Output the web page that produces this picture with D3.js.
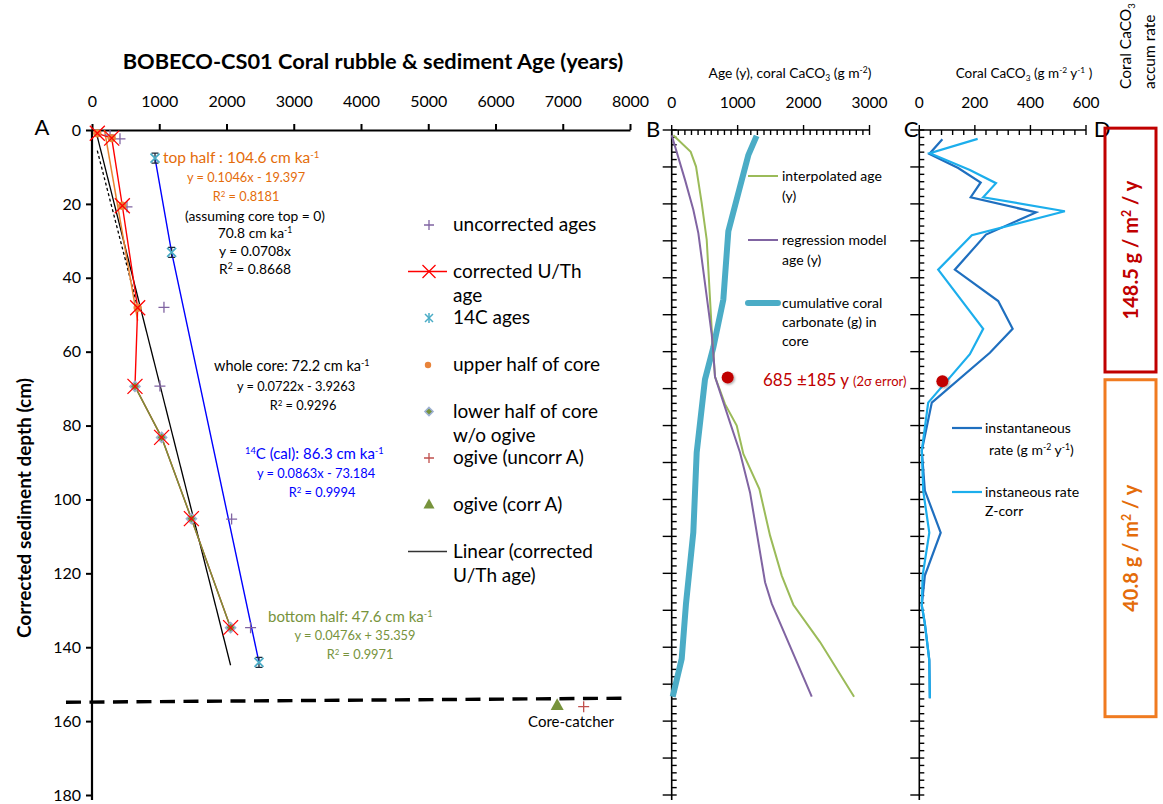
<!DOCTYPE html>
<html><head><meta charset="utf-8">
<script src="https://cdn.jsdelivr.net/npm/d3@7"></script>
<style>
html,body{margin:0;padding:0;background:#fff;}
svg{display:block;font-family:Lato,"Open Sans",sans-serif;}
</style></head>
<body>
<svg id="chart" width="1163" height="804"></svg>
<script>
// ---------------- DATA ----------------
// Panel A: age (years) vs corrected depth (cm)
const ageTicksA = [0,1000,2000,3000,4000,5000,6000,7000,8000];
const depthTicks = [0,20,40,60,80,100,120,140,160,180];
const uncorrAge   = [268, 416, 520, 1070, 1010, 2076, 2358];
const uncorrDepth = [1.4, 2.4, 20.8, 48.0, 69.3, 105.3, 134.7];
const corrAge     = [79, 293, 451, 679, 639, 1035, 1478, 2061];
const corrDepth   = [0.9, 2.2, 20.5, 48.1, 69.4, 83.2, 105.2, 134.7];
const c14Age      = [937, 1184, 2483];
const c14Depth    = [7.6, 33.1, 144.1];
const upperAge    = [79, 293, 451, 679];
const upperDepth  = [0.9, 2.2, 20.5, 48.1];
const lowerAge    = [639, 1035, 1478, 2061];
const lowerDepth  = [69.4, 83.2, 105.2, 134.7];
const ogiveUncorrAge = [7311], ogiveUncorrDepth = [156.1];
const ogiveCorrAge   = [6917], ogiveCorrDepth   = [155.6];
// regression lines shown on the chart: [slope, intercept, ageFrom, ageTo]
const fitWhole = [0.0722, -3.9263, 79, 2061];
const fitTop   = [0.1046, -19.397, 79, 679];
const fitZero  = [0.0708, 0, 79, 679];
const coreCatcherAge = [-387, 7926];
const coreCatcherDepth = [154.9, 153.8];

// Panel B
const ageTicksB = [0,1000,2000,3000];
const interpAge   = [25, 288, 369, 455, 531, 607, 631, 657, 809, 986, 1087, 1330, 1492, 1669, 1845, 2250, 2766];
const interpDepth = [1.4, 5.9, 9.9, 19.8, 29.7, 54.0, 60.3, 66.8, 74.2, 80.0, 87.7, 97.2, 109.8, 120.6, 128.5, 138.6, 153.4];
const regAge   = [0, 202, 328, 404, 607, 631, 657, 885, 1036, 1188, 1416, 1517, 2124];
const regDepth = [1.4, 13.5, 21.6, 27.9, 55.3, 60.3, 66.8, 79.2, 87.3, 98.1, 122.4, 128.2, 153.4];
const cumCarb      = [1288, 1162, 1010, 859, 783, 631, 505, 379, 328, 217, 152, 15];
const cumCarbDepth = [1.6, 6.8, 17.1, 27.4, 45.9, 58.9, 67.5, 87.3, 108.9, 128.2, 143.1, 153.4];
const dotBAge = [849], dotBDepth = [67];

// Panel C
const rateTicksC = [0,200,400,600];
const instDepth = [2.5, 6.5, 10.3, 14.2, 18.2, 22.3, 28.3, 37.8, 46.3, 53.8, 60.3, 73.8, 86.8, 97.6, 109.0, 120.6, 128.7, 133.6, 143.5, 153.8];
const instRate  = [83, 36, 140, 221, 185, 420, 240, 128, 284, 336, 254, 45, 9, 20, 77, 20, 9, 20, 36, 38];
const zDepth = [2.4, 6.3, 10.8, 14.4, 18.2, 22.0, 28.5, 37.8, 53.8, 60.7, 73.8, 86.8, 97.6, 109.0, 120.6, 128.7, 133.6, 143.5, 153.8];
const zRate  = [210, 38, 182, 276, 230, 524, 189, 68, 230, 182, 32, 9, 14, 36, 12, 9, 20, 36, 38];
const dotCRate = [83], dotCDepth = [68];

// Panel D
const rateLabels = ["148.5", "40.8"];
const rateDepthRanges = [[-0.5, 65.5], [67.6, 158.8]];

// ---------------- DRAWING ----------------
const svg = d3.select("#chart");
svg.append("rect").attr("width",1163).attr("height",804).attr("fill","#fff");

const yD = d3.scaleLinear().domain([0,180]).range([130,795]);
const xA = d3.scaleLinear().domain([0,8000]).range([92,630]);
const xB = d3.scaleLinear().domain([0,3000]).range([671.7,869.5]);
const xC = d3.scaleLinear().domain([0,600]).range([919.3,1086]);

function rtext(parent, x, y, segs, o){
  const fs = o.size;
  const t = parent.append("text").attr("x",x).attr("y",y + fs*0.34)
    .attr("font-size",fs).attr("fill",o.fill||"#000")
    .attr("text-anchor",o.anchor||"start")
    .attr("font-weight",o.weight||"normal");
  if (o.rotate) t.attr("transform",`rotate(${o.rotate},${x},${y})`);
  let cur = 0;
  segs.forEach(s=>{
    if (typeof s === "string") s = {t:s};
    const shift = s.sup ? -fs*0.36 : (s.sub ? fs*0.22 : 0);
    const ts = t.append("tspan").text(s.t).attr("dy", shift-cur);
    if (s.sup || s.sub) ts.attr("font-size", fs*0.62);
    if (s.size) ts.attr("font-size", s.size);
    cur = shift;
  });
  return t;
}

// ---- Panel A axes ----
const gA = svg.append("g");
const axTopA = d3.axisTop(xA).tickValues(ageTicksA).tickFormat(d3.format("d")).tickSize(6).tickPadding(17).tickSizeOuter(0);
const gAx = gA.append("g").attr("transform","translate(0,130)").call(axTopA);
const axLeftA = d3.axisLeft(yD).tickValues(depthTicks).tickFormat(d3.format("d")).tickSize(6).tickPadding(5).tickSizeOuter(0);
const gAy = gA.append("g").attr("transform","translate(92,0)").call(axLeftA);
[gAx,gAy].forEach(g=>{
  g.select(".domain").attr("stroke","#000").attr("stroke-width",2.2);
  g.selectAll(".tick line").attr("stroke","#000").attr("stroke-width",2);
  g.selectAll(".tick text").attr("font-size",16).attr("font-family","Lato").attr("fill","#000");
});
gAy.select(".domain").attr("d","M0,130V800");

rtext(gA, 373, 62, ["BOBECO-CS01 Coral rubble & sediment Age (years)"], {size:21.8, weight:"bold", anchor:"middle"});
rtext(gA, 25, 508, ["Corrected sediment depth (cm)"], {size:19, weight:"bold", anchor:"middle", rotate:-90});
rtext(gA, 42, 128, ["A"], {size:22, anchor:"middle"});

svg.append("clipPath").attr("id","clipA").append("rect").attr("x",92).attr("y",130).attr("width",540).attr("height",670);
const pA = gA.append("g").attr("clip-path","url(#clipA)");
const lineA = d3.line().x(d=>xA(d[0])).y(d=>yD(d[1]));
const fitPts = f => [[f[2], f[0]*f[2]+f[1]], [f[3], f[0]*f[3]+f[1]]];

pA.append("path").attr("d", lineA(fitPts(fitWhole))).attr("stroke","#000").attr("stroke-width",1.3).attr("fill","none");
pA.append("path").attr("d", lineA(fitPts(fitZero))).attr("stroke","#000").attr("stroke-width",1.3).attr("stroke-dasharray","3,2.5").attr("fill","none");
pA.append("path").attr("d", lineA(fitPts(fitTop))).attr("stroke","#E8822F").attr("stroke-width",1.5).attr("fill","none");
pA.append("path").attr("d", lineA(corrAge.map((a,i)=>[a,corrDepth[i]]))).attr("stroke","#FF0000").attr("stroke-width",1.4).attr("fill","none");
pA.append("path").attr("d", lineA(lowerAge.map((a,i)=>[a,lowerDepth[i]]))).attr("stroke","#77933C").attr("stroke-width",1.5).attr("fill","none");
pA.append("path").attr("d", lineA(c14Age.map((a,i)=>[a,c14Depth[i]]))).attr("stroke","#0000FF").attr("stroke-width",1.4).attr("fill","none");

// marker helpers
function plus(g,x,y,s,c,w){ g.append("path").attr("d",`M${x-s},${y}H${x+s}M${x},${y-s}V${y+s}`).attr("stroke",c).attr("stroke-width",w||1.3).attr("fill","none"); }
function cross(g,x,y,s,c,w){ g.append("path").attr("d",`M${x-s},${y-s}L${x+s},${y+s}M${x-s},${y+s}L${x+s},${y-s}`).attr("stroke",c).attr("stroke-width",w||1.3).attr("fill","none"); }
function star(g,x,y,s,c){ cross(g,x,y,s*0.8,c,1.5); g.append("path").attr("d",`M${x},${y-s}V${y+s}`).attr("stroke",c).attr("stroke-width",1.5); }
function diamond(g,x,y,s,f,st){ g.append("path").attr("d",`M${x},${y-s}L${x+s},${y}L${x},${y+s}L${x-s},${y}Z`).attr("fill",f).attr("stroke",st).attr("stroke-width",1.6); }
function tri(g,x,y,s,f){ g.append("path").attr("d",`M${x},${y-s}L${x+s},${y+s*0.8}L${x-s},${y+s*0.8}Z`).attr("fill",f); }

// markers
const mA = gA.append("g");
uncorrAge.forEach((a,i)=>plus(mA, xA(a), yD(uncorrDepth[i]), 5.5, "#8064A2", 1.3));
upperAge.forEach((a,i)=>mA.append("circle").attr("cx",xA(a)).attr("cy",yD(upperDepth[i])).attr("r",4.2).attr("fill","#E8833A"));
lowerAge.forEach((a,i)=>diamond(mA, xA(a), yD(lowerDepth[i]), 5, "#77933C", "#9DB1D3"));
corrAge.forEach((a,i)=>cross(mA, xA(a), yD(corrDepth[i]), 7.5, "#FF0000", 1.3));
c14Age.forEach((a,i)=>{
  const x=xA(a), y=yD(c14Depth[i]);
  mA.append("path").attr("d",`M${x-3.5},${y-5}H${x+3.5}M${x-3.5},${y+5}H${x+3.5}M${x},${y-5}V${y+5}`).attr("stroke","#1a2a3a").attr("stroke-width",1.3);
  cross(mA, x, y, 4.5, "#4BACC6", 1.8);
});
ogiveUncorrAge.forEach((a,i)=>plus(mA, xA(a), yD(ogiveUncorrDepth[i]), 5.5, "#C0504D", 1.3));
ogiveCorrAge.forEach((a,i)=>tri(mA, xA(a), yD(ogiveCorrDepth[i]), 6.5, "#77933C"));

// core-catcher dashed line
gA.append("path").attr("d", lineA(coreCatcherAge.map((a,i)=>[a,coreCatcherDepth[i]])))
  .attr("stroke","#000").attr("stroke-width",3.4).attr("stroke-dasharray","15,8.5").attr("fill","none");
rtext(gA, 571, 722, ["Core-catcher"], {size:15, anchor:"middle"});

// annotations A
const orange="#E46C0A", olive="#77933C", blue="#0000FF";
rtext(gA, 163, 158, ["top half : 104.6 cm ka",{t:"-1",sup:true}], {size:15.5, fill:orange});
rtext(gA, 246, 178, ["y = 0.1046x - 19.397"], {size:12.8, fill:orange, anchor:"middle"});
rtext(gA, 246, 197, ["R",{t:"2",sup:true}," = 0.8181"], {size:12.8, fill:orange, anchor:"middle"});
rtext(gA, 255, 216, ["(assuming core top = 0)"], {size:13.8, anchor:"middle"});
rtext(gA, 255, 233, ["70.8 cm ka",{t:"-1",sup:true}], {size:13.8, anchor:"middle"});
rtext(gA, 255, 251, ["y = 0.0708x"], {size:13.8, anchor:"middle"});
rtext(gA, 255, 269, ["R",{t:"2",sup:true}," = 0.8668"], {size:13.8, anchor:"middle"});

rtext(gA, 214, 366, ["whole core: 72.2 cm ka",{t:"-1",sup:true}], {size:14.5});
rtext(gA, 296, 387, ["y = 0.0722x - 3.9263"], {size:12.8, anchor:"middle"});
rtext(gA, 303, 406, ["R",{t:"2",sup:true}," = 0.9296"], {size:12.8, anchor:"middle"});

rtext(gA, 245, 454, [{t:"14",sup:true},"C (cal): 86.3 cm ka",{t:"-1",sup:true}], {size:15, fill:blue});
rtext(gA, 316, 474, ["y = 0.0863x - 73.184"], {size:12.8, fill:blue, anchor:"middle"});
rtext(gA, 322, 493, ["R",{t:"2",sup:true}," = 0.9994"], {size:12.8, fill:blue, anchor:"middle"});

rtext(gA, 268, 617, ["bottom half: 47.6 cm ka",{t:"-1",sup:true}], {size:15, fill:olive});
rtext(gA, 355, 636, ["y = 0.0476x + 35.359"], {size:12.8, fill:olive, anchor:"middle"});
rtext(gA, 360, 655, ["R",{t:"2",sup:true}," = 0.9971"], {size:12.8, fill:olive, anchor:"middle"});

// legend A
const lg = gA.append("g");
const lgx = 429, ltx = 453, lfs = 19;
plus(lg, lgx, 225, 5, "#8064A2", 1.3); rtext(lg, ltx, 225, ["uncorrected ages"], {size:lfs});
lg.append("path").attr("d",`M408,271.5H447`).attr("stroke","#FF0000").attr("stroke-width",1.4);
cross(lg, lgx, 271.5, 6.5, "#FF0000", 1.3);
rtext(lg, ltx, 271.5, ["corrected U/Th"], {size:lfs}); rtext(lg, ltx, 296, ["age"], {size:lfs});
star(lg, lgx, 318, 5, "#4BACC6"); rtext(lg, ltx, 318, ["14C ages"], {size:lfs});
lg.append("circle").attr("cx",lgx-1).attr("cy",365).attr("r",3.2).attr("fill","#E8833A");
rtext(lg, ltx, 365, ["upper half of core"], {size:lfs});
diamond(lg, lgx, 411.5, 4, "#77933C", "#9DB1D3");
rtext(lg, ltx, 411.5, ["lower half of core"], {size:lfs}); rtext(lg, ltx, 436, ["w/o ogive"], {size:lfs});
plus(lg, lgx, 458, 5, "#C0504D", 1.3); rtext(lg, ltx, 458, ["ogive (uncorr A)"], {size:lfs});
tri(lg, lgx, 504, 5.5, "#77933C"); rtext(lg, ltx, 505, ["ogive (corr A)"], {size:lfs});
lg.append("path").attr("d",`M408,551.5H447`).attr("stroke","#333").attr("stroke-width",1.3);
rtext(lg, ltx, 551.5, ["Linear (corrected"], {size:lfs}); rtext(lg, ltx, 576, ["U/Th age)"], {size:lfs});

// ---- Panel B ----
const gB = svg.append("g");
function panelAxes(g, xs, majors, minorStep){
  const x0 = xs.range()[0], x1 = xs.range()[1];
  g.append("path").attr("d",`M${x0},130H${x1}`).attr("stroke","#000").attr("stroke-width",1.6);
  const dmax = xs.domain()[1];
  for (let v=0; v<=dmax+1e-6; v+=minorStep){
    const isMaj = majors.some(m=>Math.abs(m-v)<1e-6);
    const x = xs(v);
    g.append("path").attr("d", isMaj?`M${x},125V135`:`M${x},130V135`).attr("stroke","#000").attr("stroke-width",1.4);
  }
  majors.forEach(m=>rtext(g, xs(m), 103, [String(m)], {size:15.5, anchor:"middle"}));
  g.append("path").attr("d",`M${x0},130V800`).attr("stroke","#000").attr("stroke-width",1.6);
  for (let d=0; d<=180; d+=2){
    const y = yD(d);
    g.append("path").attr("d", d%10===0?`M${x0-9},${y}H${x0+5}`:`M${x0},${y}H${x0+5}`).attr("stroke","#000").attr("stroke-width",1.4);
  }
}
panelAxes(gB, xB, ageTicksB, 100);
rtext(gB, 790, 73, ["Age (y), coral CaCO",{t:"3",sub:true}," (g m",{t:"-2",sup:true},")"], {size:13.8, anchor:"middle"});
rtext(gB, 653, 130, ["B"], {size:22, anchor:"middle"});

const lineB = (xs, a, d) => d3.line().x(p=>xs(p[0])).y(p=>yD(p[1]))(a.map((v,i)=>[v,d[i]]));
gB.append("path").attr("d", lineB(xB, cumCarb, cumCarbDepth)).attr("stroke","#4BACC6").attr("stroke-width",6).attr("fill","none");
gB.append("path").attr("d", lineB(xB, interpAge, interpDepth)).attr("stroke","#9BBB59").attr("stroke-width",2).attr("fill","none");
gB.append("path").attr("d", lineB(xB, regAge, regDepth)).attr("stroke","#8064A2").attr("stroke-width",2).attr("fill","none");

const defs = svg.append("defs");
const flt = defs.append("filter").attr("id","shadow").attr("x","-50%").attr("y","-50%").attr("width","200%").attr("height","200%");
flt.append("feDropShadow").attr("dx",1.2).attr("dy",1.2).attr("stdDeviation",1.2).attr("flood-color","#000").attr("flood-opacity",0.35);

dotBAge.forEach((a,i)=>gB.append("circle").attr("cx",xB(a)).attr("cy",yD(dotBDepth[i])).attr("r",6).attr("fill","#C00000").attr("filter","url(#shadow)"));
rtext(gB, 763, 380, ["685 \u00B1185 y ",{t:"(2\u03C3 error)", size:13}], {size:17, fill:"#C00000"});

// legend B
const lbx1=748, lbx2=778, lbt=782, lbfs=14;
gB.append("path").attr("d",`M${lbx1},176H${lbx2}`).attr("stroke","#9BBB59").attr("stroke-width",2);
rtext(gB, lbt, 176, ["interpolated age"], {size:lbfs}); rtext(gB, lbt, 196, ["(y)"], {size:lbfs});
gB.append("path").attr("d",`M${lbx1},240H${lbx2}`).attr("stroke","#8064A2").attr("stroke-width",2);
rtext(gB, lbt, 240, ["regression model"], {size:lbfs}); rtext(gB, lbt, 260, ["age (y)"], {size:lbfs});
gB.append("path").attr("d",`M${lbx1},303H${lbx2}`).attr("stroke","#4BACC6").attr("stroke-width",6).attr("stroke-linecap","round");
rtext(gB, lbt, 303, ["cumulative coral"], {size:lbfs}); rtext(gB, lbt, 322, ["carbonate (g) in"], {size:lbfs}); rtext(gB, lbt, 341, ["core"], {size:lbfs});

// ---- Panel C ----
const gC = svg.append("g");
panelAxes(gC, xC, rateTicksC, 40);
rtext(gC, 1024, 73, ["Coral CaCO",{t:"3",sub:true}," (g m",{t:"-2",sup:true}," y",{t:"-1",sup:true}," )"], {size:13.5, anchor:"middle"});
rtext(gC, 911, 130, ["C"], {size:22, anchor:"middle"});
gC.append("path").attr("d", lineB(xC, instRate, instDepth)).attr("stroke","#1F6FBF").attr("stroke-width",2.2).attr("fill","none");
gC.append("path").attr("d", lineB(xC, zRate, zDepth)).attr("stroke","#1CAEEC").attr("stroke-width",2.2).attr("fill","none");
dotCRate.forEach((r,i)=>gC.append("circle").attr("cx",xC(r)).attr("cy",yD(dotCDepth[i])).attr("r",6).attr("fill","#C00000").attr("filter","url(#shadow)"));
gC.append("path").attr("d",`M952,428H982`).attr("stroke","#1F6FBF").attr("stroke-width",2.2);
rtext(gC, 985, 428, ["instantaneous"], {size:14});
rtext(gC, 989, 450, ["rate (g m",{t:"-2",sup:true}," y",{t:"-1",sup:true},")"], {size:14});
gC.append("path").attr("d",`M952,492H982`).attr("stroke","#1CAEEC").attr("stroke-width",2.2);
rtext(gC, 985, 492, ["instaneous rate"], {size:14});
rtext(gC, 985, 511, ["Z-corr"], {size:14});

// ---- Panel D ----
const gD = svg.append("g");
rtext(gD, 1102, 130, ["D"], {size:22, anchor:"middle"});
rtext(gD, 1126, 89, ["Coral  CaCO",{t:"3",sub:true}], {size:15.5, rotate:-90});
rtext(gD, 1150, 89, ["accum rate"], {size:15.5, rotate:-90});
const dCols = ["#C00000", "#F07B20"], dText = ["#C00000", "#E46C0A"];
rateLabels.forEach((lab,i)=>{
  const r = rateDepthRanges[i];
  const y0 = yD(r[0]), y1 = yD(r[1]);
  gD.append("rect").attr("x",1105).attr("y",y0).attr("width",51).attr("height",y1-y0)
    .attr("fill","none").attr("stroke",dCols[i]).attr("stroke-width",3);
  rtext(gD, 1131, (y0+y1)/2, [lab+" g / m",{t:"2",sup:true}," / y"], {size:20, weight:"bold", fill:dText[i], anchor:"middle", rotate:-90});
});
</script>
</body></html>
